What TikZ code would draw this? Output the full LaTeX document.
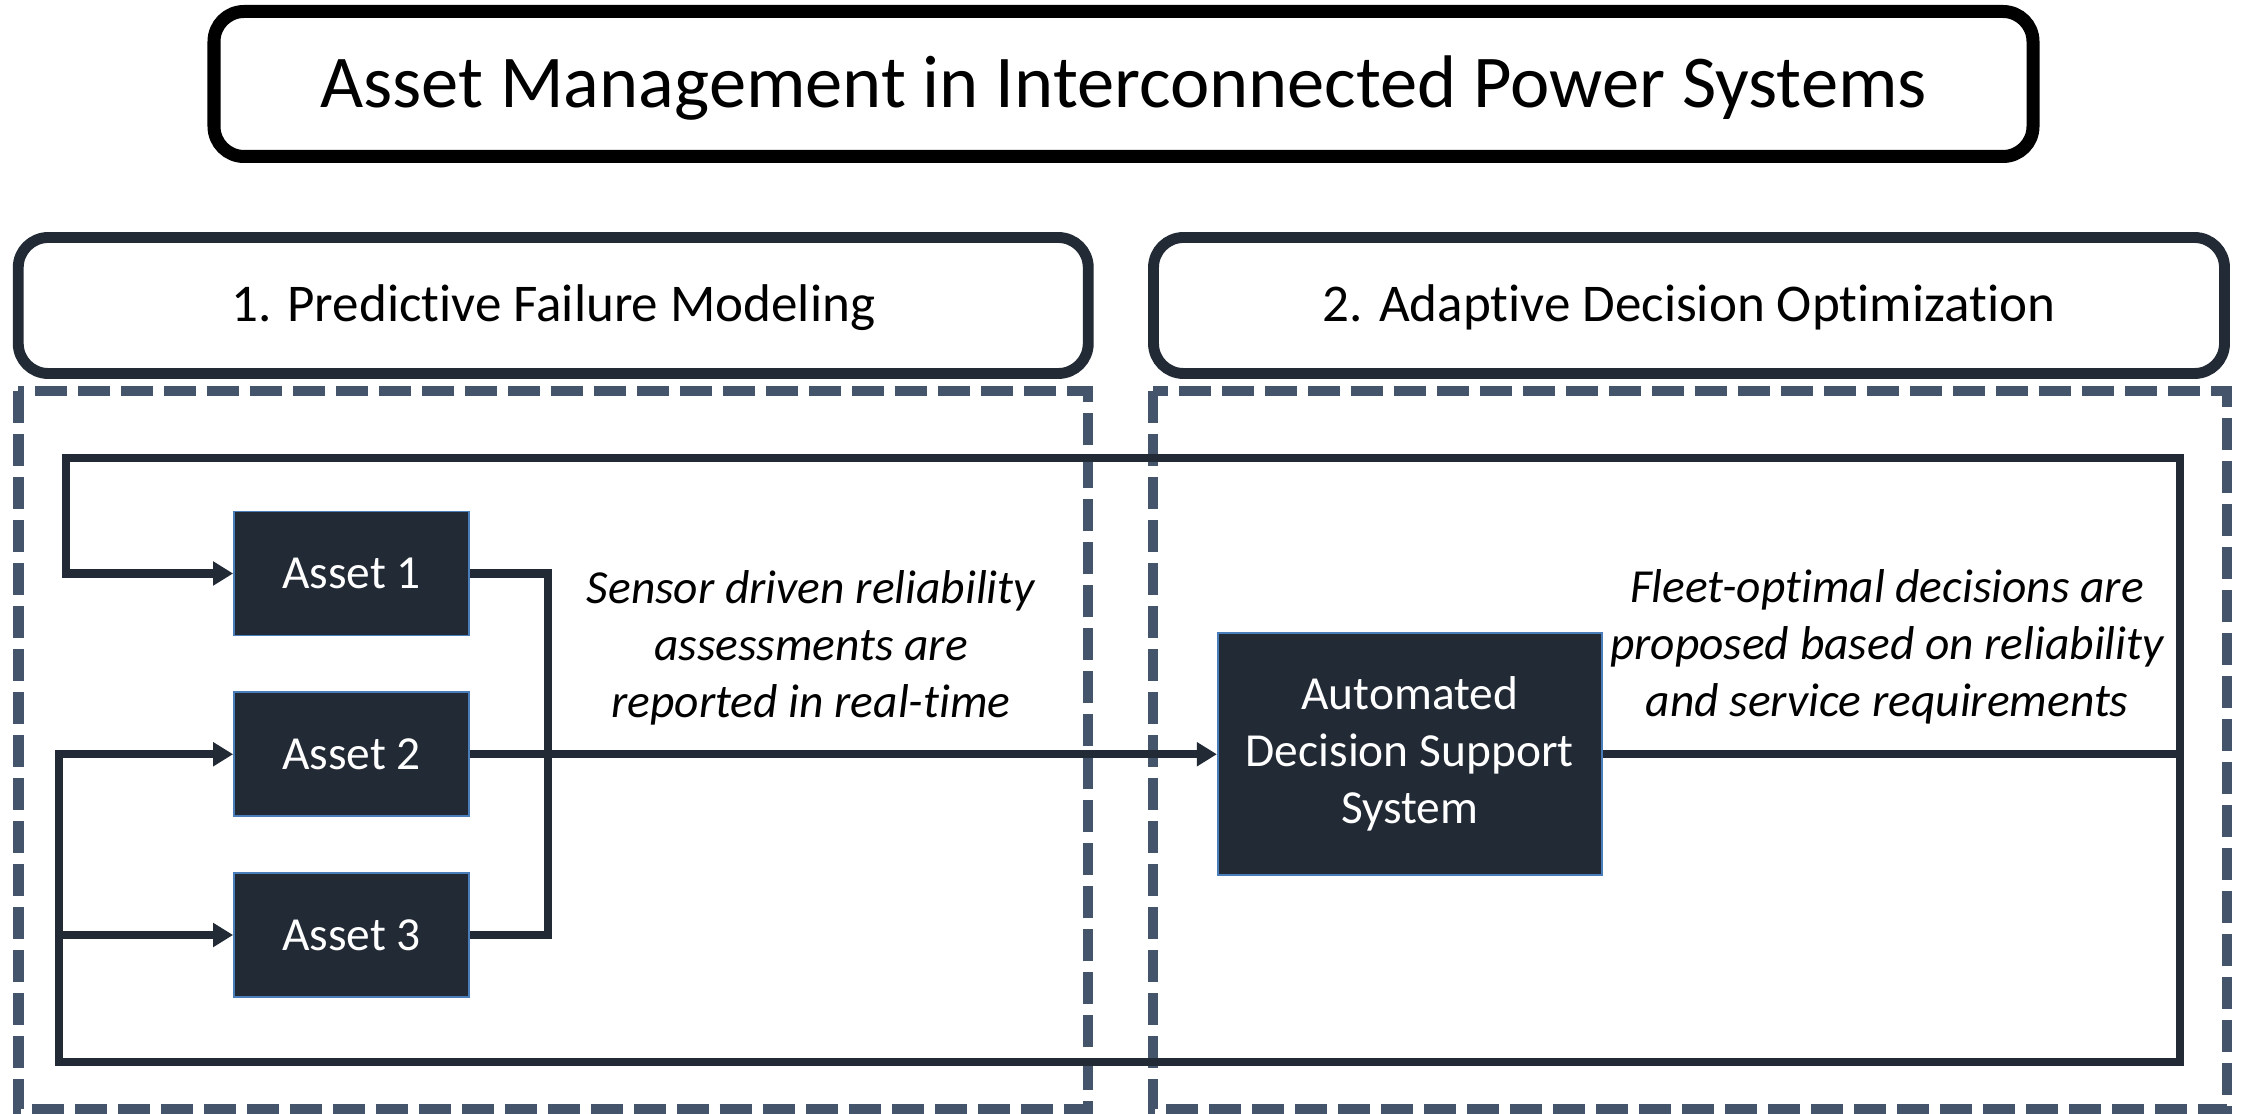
\documentclass[tikz,border=0pt]{standalone}
\usepackage{fontspec}
\setmainfont{Carlito}[Ligatures=NoCommon]
\usetikzlibrary{positioning,arrows.meta}
\definecolor{navy}{HTML}{222A35}
\definecolor{slate}{HTML}{44546A}
\definecolor{steel}{HTML}{4A7EBB}

\begin{document}
\begin{tikzpicture}[
    titlebox/.style={draw=black, line width=3.7pt, rounded corners=0.3cm, minimum width=18.19cm, minimum height=1.45cm, text height=0.62cm, text depth=0.14cm, font=\fontsize{21.2}{25}\selectfont},
    headbox/.style={draw=navy, line width=3.1pt, rounded corners=0.3cm, minimum width=10.7cm, minimum height=1.36cm, text height=0.44cm, text depth=0.11cm, font=\fontsize{15.1}{18}\selectfont},
    stagebox/.style={draw=slate, line width=2.85pt, dash pattern=on 0.32cm off 0.11cm},
    asset/.style={draw=steel, line width=0.5pt, fill=navy, text=white, minimum width=2.35cm, minimum height=1.24cm, font=\fontsize{13.5}{16.2}\selectfont},
    link/.style={draw=navy, line width=2.3pt},
    note/.style={align=center, font=\fontsize{13.5}{16.2}\selectfont\itshape},
    >={Triangle[length=0.2cm,width=0.23cm]}
  ]
  \useasboundingbox (0,0) rectangle (22.42,11.14);

  \node[titlebox] (title) at (11.235,10.30) {Asset Management in Interconnected Power Systems};
  \node[headbox] (pfm) at (5.5325,8.085) {1. Predictive Failure Modeling};
  \node[headbox, minimum width=10.71cm] (ado) at (16.89,8.085) {2. Adaptive Decision Optimization};

  % stage frames
  \draw[stagebox] (0.185,7.23) rectangle (10.88,0.05);
  \draw[stagebox] (11.53,7.23) rectangle (22.27,0.05);

  \node[asset] (a1) at (3.515,5.405) {Asset 1};
  \node[asset, below=0.55cm of a1] (a2) {Asset 2};
  \node[asset, below=0.55cm of a2] (a3) {Asset 3};
  \node[asset, right=7.47cm of a2, minimum width=3.84cm, minimum height=2.42cm, align=center] (dss) {Automated\\Decision Support\\System};

  \coordinate (rtop) at (21.80,6.56);
  \coordinate (rbot) at (21.80,0.52);
  \coordinate (ltop) at (0.66,6.56);
  \coordinate (lbot) at (0.59,0.52);
  \coordinate (bus) at (5.48,0);

  % feedback loops
  \draw[link,->] (rbot) -- (rtop) -- (ltop) |- (a1.west);
  \draw[link,->] (rtop) -- (rbot) -- (lbot) |- (a2.west);
  \draw[link,->] (lbot |- a3.west) -- (a3.west);
  \draw[link] (dss.east) -- (dss.east -| rtop);

  % asset outputs
  \draw[link] (a1.east) -- (a1.east -| bus) -- (a3.east -| bus) -- (a3.east);
  \draw[link,->] (a2.east) -- (dss.west);

  \node[note] (sensor) at (8.11,4.66) {Sensor driven reliability\\assessments are\\reported in real-time};
  \node[note] (fleet) at (18.87,4.67) {Fleet-optimal decisions are\\proposed based on reliability\\and service requirements};
\end{tikzpicture}
\end{document}
